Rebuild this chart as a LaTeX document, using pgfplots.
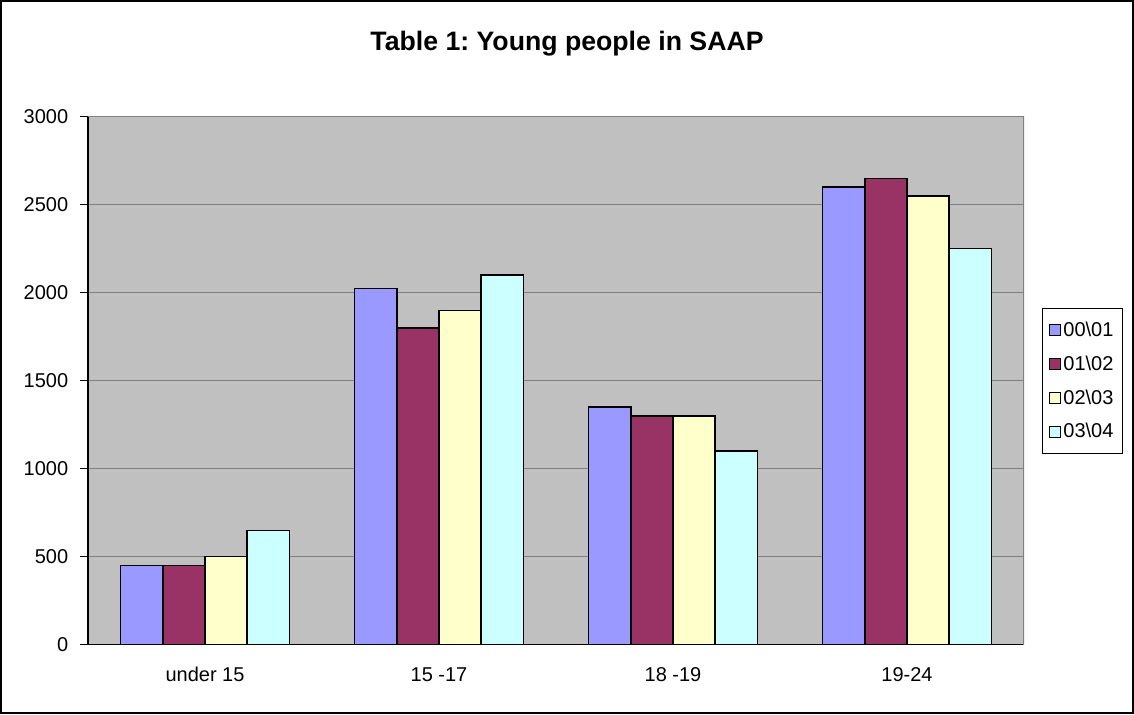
\documentclass[border=0pt]{standalone}
\usepackage{fontspec}
\setmainfont{Liberation Sans}
\usepackage{pgfplots}
\pgfplotsset{compat=1.18}
\frenchspacing

\definecolor{sA}{RGB}{153,153,255}
\definecolor{sB}{RGB}{153,51,102}
\definecolor{sC}{RGB}{255,255,204}
\definecolor{sD}{RGB}{204,255,255}
\definecolor{plotbg}{RGB}{192,192,192}
\definecolor{gridgray}{RGB}{128,128,128}

\begin{document}
\begin{tikzpicture}
% chart frame
\fill[white] (0pt,0pt) rectangle (850.5pt,535.5pt);
\draw[black, line width=1.4pt] (0.7pt,0.7pt) rectangle (849.8pt,534.8pt);
\node[font=\bfseries\fontsize{20}{24}\selectfont, anchor=base] at (425.25pt,497.25pt) {Table 1: Young people in SAAP};

\begin{axis}[
  at={(66pt,52pt)}, anchor=south west,
  scale only axis,
  width=702pt, height=396pt,
  ybar=0pt, bar width=0.18,
  xmin=-0.5, xmax=3.5,
  ymin=0, ymax=3000,
  ytick={0,500,...,3000},
  xtick={0,1,2,3},
  xticklabels={under 15,15 -17,18 -19,19-24},
  x tick style={draw=none},
  extra x ticks={-0.5,0.5,1.5,2.5,3.5},
  extra x tick labels={},
  extra x tick style={grid=none, tick style={draw=black, line width=0.6pt}, major tick length=5pt},
  tick align=outside,
  y tick style={black, line width=0.6pt},
  major tick length=6pt,
  axis x line*=bottom, axis y line*=left,
  axis line style={black, line width=0.8pt, -},
  ymajorgrids,
  grid style={gridgray, line width=0.9pt},
  axis background/.style={fill=plotbg},
  tick label style={font=\fontsize{15}{18}\selectfont},
  /pgf/number format/assume math mode=true,
  /pgf/number format/1000 sep={},
  xticklabel style={yshift=-7.5pt},
  yticklabel style={xshift=-5.3pt},
  legend style={at={(1.0192,0.4994)}, anchor=west, draw=black, line width=0.6pt,
    font=\fontsize{15}{18}\selectfont, row sep=9pt, inner xsep=5pt, inner ysep=8pt,
    legend cell align=left},
  legend image code/.code={\draw[#1, line width=0.6pt, draw=black] (0pt,-4.1pt) rectangle (8.2pt,4.1pt);},
]
\addplot[fill=sA, draw=black, line width=1pt] coordinates {(0,450) (1,2025) (2,1350) (3,2600)};
\addplot[fill=sB, draw=black, line width=1pt] coordinates {(0,450) (1,1800) (2,1300) (3,2650)};
\addplot[fill=sC, draw=black, line width=1pt] coordinates {(0,500) (1,1900) (2,1300) (3,2550)};
\addplot[fill=sD, draw=black, line width=1pt] coordinates {(0,650) (1,2100) (2,1100) (3,2250)};
\legend{00\textbackslash 01,01\textbackslash 02,02\textbackslash 03,03\textbackslash 04}
\draw[gridgray, line width=0.9pt] (rel axis cs:0,1) -- (rel axis cs:1,1) -- (rel axis cs:1,0);
\end{axis}
\end{tikzpicture}
\end{document}
